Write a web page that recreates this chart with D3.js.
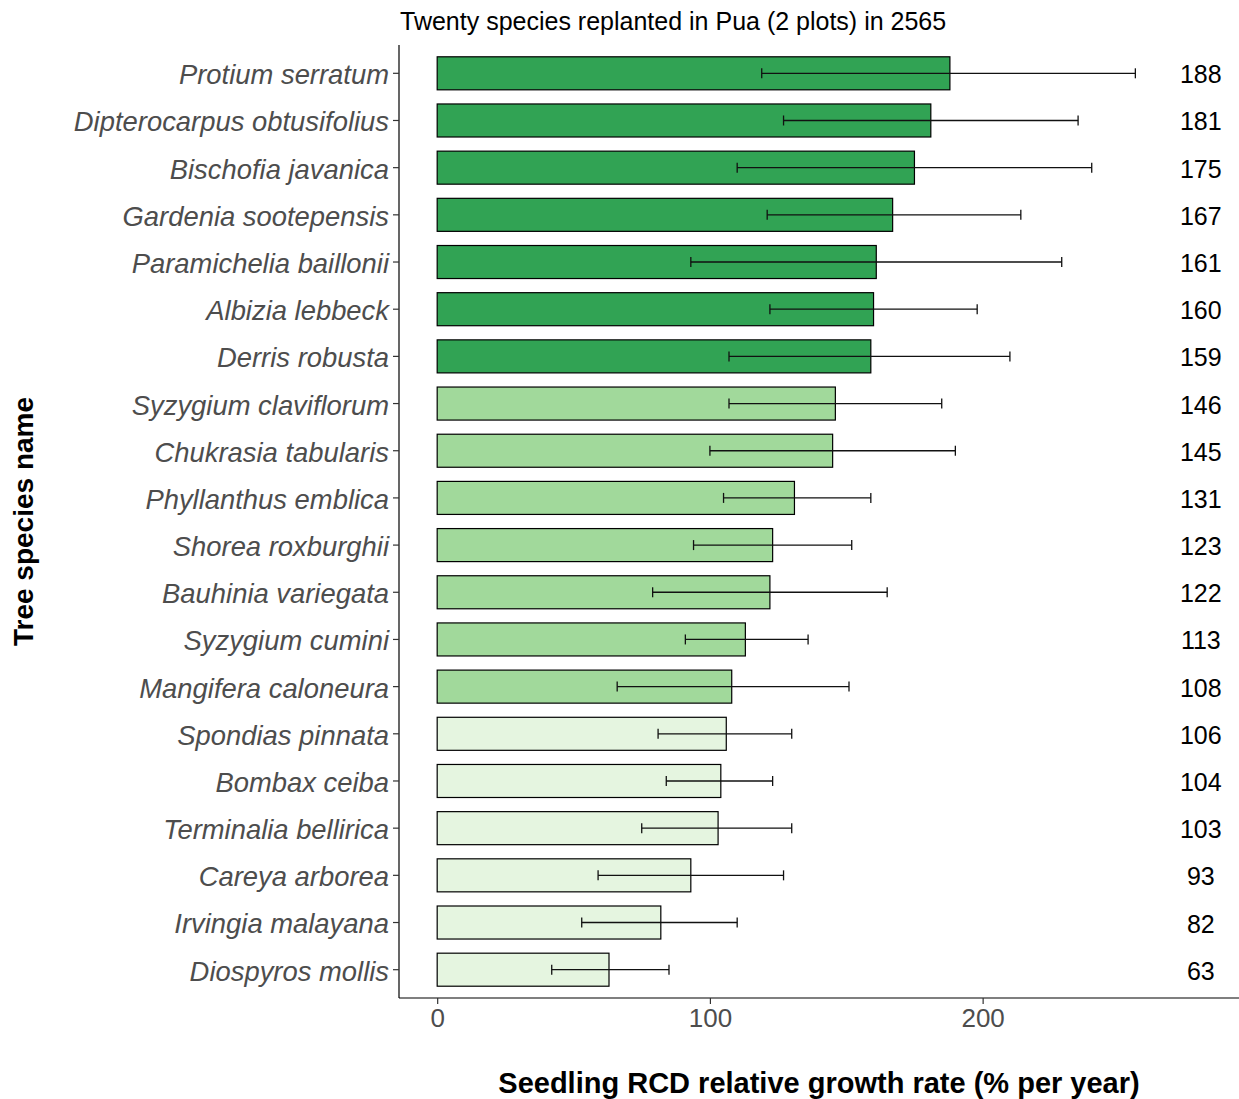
<!DOCTYPE html>
<html>
<head>
<meta charset="utf-8">
<script src="https://cdn.jsdelivr.net/npm/d3@7"></script>
<style>
  html, body { margin: 0; padding: 0; background: #ffffff; }
  svg { display: block; font-family: "Liberation Sans", Arial, sans-serif; }
</style>
</head>
<body>
<svg id="chart" width="1239" height="1099"></svg>
<script>
// Species, ordered from fastest to slowest growth
const species = [
  "Protium serratum", "Dipterocarpus obtusifolius", "Bischofia javanica",
  "Gardenia sootepensis", "Paramichelia baillonii", "Albizia lebbeck",
  "Derris robusta", "Syzygium claviflorum", "Chukrasia tabularis",
  "Phyllanthus emblica", "Shorea roxburghii", "Bauhinia variegata",
  "Syzygium cumini", "Mangifera caloneura", "Spondias pinnata",
  "Bombax ceiba", "Terminalia bellirica", "Careya arborea",
  "Irvingia malayana", "Diospyros mollis"
];
// Mean RCD relative growth rate (% per year)
const growth = [188, 181, 175, 167, 161, 160, 159, 146, 145, 131,
                123, 122, 113, 108, 106, 104, 103, 93, 82, 63];
// Lower and upper ends of the error bars
const errLow  = [119, 127, 110, 121, 93, 122, 107, 107, 100, 105,
                 94, 79, 91, 66, 81, 84, 75, 59, 53, 42];
const errHigh = [256, 235, 240, 214, 229, 198, 210, 185, 190, 159,
                 152, 165, 136, 151, 130, 123, 130, 127, 110, 85];
// Performance class of each species
const group = ["high", "high", "high", "high", "high", "high", "high",
               "mid", "mid", "mid", "mid", "mid", "mid", "mid",
               "low", "low", "low", "low", "low", "low"];
const groupNames = ["high", "mid", "low"];
const groupColors = ["#31a354", "#a1d99b", "#e5f5e0"];
// x position (data units) of the value labels and tick values
const labelAt = 280;
const xTicks = [0, 100, 200];

const titleText = "Twenty species replanted in Pua (2 plots) in 2565";
const xTitle = "Seedling RCD relative growth rate (% per year)";
const yTitle = "Tree species name";

const rows = species.map((s, i) => ({
  name: s, value: growth[i], lo: errLow[i], hi: errHigh[i], group: group[i]
}));

const svg = d3.select("#chart");
const panel = { left: 399, right: 1239, top: 45, bottom: 998 };

// continuous x with 5% expansion around 0..labelAt
const span = labelAt - 0;
const x = d3.scaleLinear()
  .domain([0 - span * 0.05, labelAt + span * 0.05])
  .range([panel.left, panel.right]);

const y = d3.scaleBand()
  .domain(species)
  .range([panel.top, panel.bottom])
  .paddingInner(0.3)
  .paddingOuter(0.25);

const color = d3.scaleOrdinal().domain(groupNames).range(groupColors);

// bars
svg.append("g").selectAll("rect")
  .data(rows)
  .join("rect")
  .attr("x", x(0))
  .attr("y", d => y(d.name))
  .attr("width", d => x(d.value) - x(0))
  .attr("height", y.bandwidth())
  .attr("fill", d => color(d.group))
  .attr("stroke", "#000")
  .attr("stroke-width", 1.2);

// error bars
const eb = svg.append("g").attr("stroke", "#111").attr("stroke-width", 1.3);
const cap = 5;
rows.forEach(d => {
  const cy = y(d.name) + y.bandwidth() / 2;
  eb.append("line").attr("x1", x(d.lo)).attr("x2", x(d.hi)).attr("y1", cy).attr("y2", cy);
  eb.append("line").attr("x1", x(d.lo)).attr("x2", x(d.lo)).attr("y1", cy - cap).attr("y2", cy + cap);
  eb.append("line").attr("x1", x(d.hi)).attr("x2", x(d.hi)).attr("y1", cy - cap).attr("y2", cy + cap);
});

// value labels
svg.append("g").selectAll("text")
  .data(rows)
  .join("text")
  .attr("x", x(labelAt))
  .attr("y", d => y(d.name) + y.bandwidth() / 2)
  .attr("dy", "0.4em")
  .attr("text-anchor", "middle")
  .attr("font-size", 25)
  .attr("fill", "#000")
  .text(d => d.value);

// y axis
const yAxis = svg.append("g")
  .attr("transform", `translate(${panel.left},0)`)
  .call(d3.axisLeft(y).tickSize(6).tickPadding(4));
yAxis.select(".domain").attr("stroke", "#000").attr("stroke-width", 1.2)
  .attr("d", `M0,${panel.top}V${panel.bottom}`);
yAxis.selectAll(".tick line").attr("stroke", "#333").attr("stroke-width", 1.2);
yAxis.selectAll(".tick text")
  .attr("font-size", 27.4)
  .attr("font-style", "italic")
  .attr("fill", "#4d4d4d")
  .attr("dy", "0.4em")
  .attr("font-family", "'Liberation Sans', Arial, sans-serif");

// x axis
const xAxis = svg.append("g")
  .attr("transform", `translate(0,${panel.bottom})`)
  .call(d3.axisBottom(x).tickValues(xTicks).tickSize(6).tickPadding(5));
xAxis.select(".domain").attr("stroke", "#000").attr("stroke-width", 1.2)
  .attr("d", `M${panel.left},0H${panel.right}`);
xAxis.selectAll(".tick line").attr("stroke", "#333").attr("stroke-width", 1.2);
xAxis.selectAll(".tick text")
  .attr("font-size", 26)
  .attr("fill", "#4d4d4d")
  .attr("font-family", "'Liberation Sans', Arial, sans-serif");

// titles
svg.append("text")
  .attr("x", panel.left + 1)
  .attr("y", 30)
  .attr("font-size", 25)
  .attr("fill", "#000")
  .text(titleText);

svg.append("text")
  .attr("x", (panel.left + panel.right) / 2)
  .attr("y", 1093)
  .attr("text-anchor", "middle")
  .attr("font-size", 29)
  .attr("font-weight", "bold")
  .attr("fill", "#000")
  .text(xTitle);

svg.append("text")
  .attr("transform", `translate(33,${(panel.top + panel.bottom) / 2}) rotate(-90)`)
  .attr("text-anchor", "middle")
  .attr("font-size", 28)
  .attr("font-weight", "bold")
  .attr("fill", "#000")
  .text(yTitle);
</script>
</body>
</html>
